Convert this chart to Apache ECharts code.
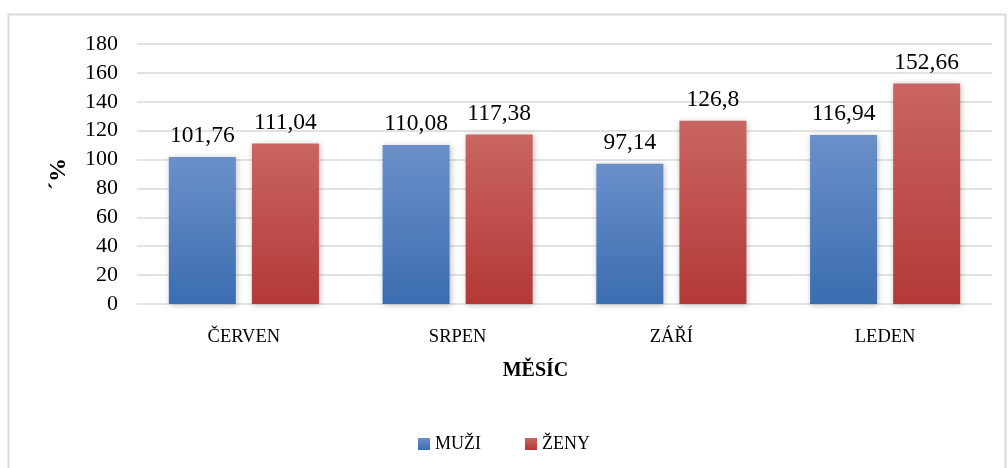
<!DOCTYPE html>
<html>
<head>
<meta charset="utf-8">
<script src="https://cdn.jsdelivr.net/npm/echarts@6/dist/echarts.min.js"></script>
<style>
  html, body { margin: 0; padding: 0; background: #fff; }
  #chart { width: 1008px; height: 468px; }
</style>
</head>
<body>
<div id="chart"></div>
<script>
// data
const months = ['ČERVEN', 'SRPEN', 'ZÁŘÍ', 'LEDEN']
const muzi = [101.76, 110.08, 97.14, 116.94]
const zeny = [111.04, 117.38, 126.8, 152.66]

const font = '"Liberation Serif", "Times New Roman", serif'

const fmt = p => String(p.value).replace('.', ',')

const chart = echarts.init(document.getElementById('chart'), null, { renderer: 'canvas' })

const grad = (top, bottom) => new echarts.graphic.LinearGradient(0, 0, 0, 1, [
  { offset: 0, color: top },
  { offset: 1, color: bottom }
])

const valueLabel = {
  show: true,
  position: 'top',
  distance: 9,
  formatter: fmt,
  fontSize: 23.5,
  fontFamily: font,
  color: '#000'
}

chart.setOption({
  animation: false,
  textStyle: { fontFamily: font },
  graphic: [{
    type: 'rect',
    shape: { x: 8.5, y: 14.5, width: 997, height: 470 },
    style: { fill: 'none', stroke: '#d9d9d9', lineWidth: 2 }
  }],
  legend: {
    bottom: 10,
    left: 'center',
    itemWidth: 12,
    itemHeight: 12,
    itemGap: 44,
    icon: 'rect',
    textStyle: { fontFamily: font, fontSize: 18, color: '#000' },
    data: ['MUŽI', 'ŽENY']
  },
  grid: { left: 137, right: 16, top: 44, bottom: 164 },
  xAxis: {
    type: 'category',
    data: months,
    name: 'MĚSÍC',
    nameLocation: 'middle',
    nameGap: 57,
    nameTextStyle: {
      fontFamily: font, fontSize: 20, fontWeight: 'bold', color: '#000',
      padding: [0, 58, 0, 0]
    },
    axisLine: { show: false },
    axisTick: { show: false },
    axisLabel: { color: '#000', fontSize: 18.5, margin: 24, fontFamily: font }
  },
  yAxis: {
    type: 'value',
    min: 0,
    max: 180,
    interval: 20,
    name: '´%',
    nameLocation: 'middle',
    nameGap: 66,
    nameRotate: 90,
    nameTextStyle: { fontFamily: font, fontSize: 24, fontWeight: 'bold', color: '#000' },
    axisLine: { show: false },
    axisTick: { show: false },
    axisLabel: { color: '#000', fontSize: 22, margin: 19, fontFamily: font },
    splitLine: { lineStyle: { color: '#d9d9d9', width: 1.5 } }
  },
  series: [
    {
      name: 'MUŽI',
      type: 'bar',
      data: muzi,
      barWidth: 67,
      barGap: '24%',
      itemStyle: {
        color: grad('#6b90c9', '#3a6db1'),
        shadowColor: 'rgba(0,0,0,0.25)',
        shadowBlur: 6,
        shadowOffsetX: 1,
        shadowOffsetY: 1
      },
      label: valueLabel
    },
    {
      name: 'ŽENY',
      type: 'bar',
      data: zeny,
      barWidth: 67,
      itemStyle: {
        color: grad('#c96562', '#b33937'),
        shadowColor: 'rgba(0,0,0,0.25)',
        shadowBlur: 6,
        shadowOffsetX: 1,
        shadowOffsetY: 1
      },
      label: valueLabel
    }
  ]
})
</script>
</body>
</html>
